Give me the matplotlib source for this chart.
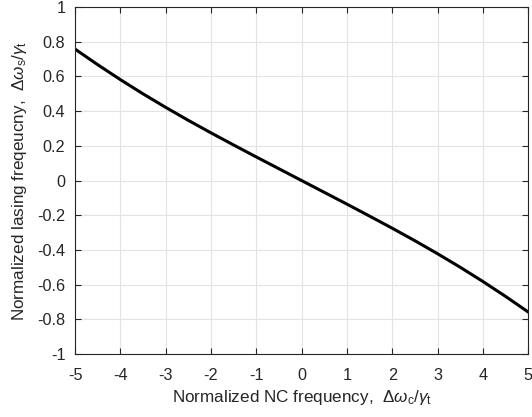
import matplotlib
matplotlib.use("Agg")
import matplotlib.pyplot as plt
import numpy as np

nc_freq = [-5, -4.5, -4, -3.5, -3, -2.5, -2, -1.5, -1, -0.5, 0, 0.5, 1, 1.5, 2, 2.5, 3, 3.5, 4, 4.5, 5]
lasing_freq = [0.758, 0.668, 0.582, 0.500, 0.422, 0.347, 0.275, 0.205, 0.136, 0.068, 0.0,
               -0.068, -0.136, -0.205, -0.275, -0.347, -0.422, -0.500, -0.582, -0.668, -0.758]
xticks = [-5, -4, -3, -2, -1, 0, 1, 2, 3, 4, 5]
yticks = [-1, -0.8, -0.6, -0.4, -0.2, 0, 0.2, 0.4, 0.6, 0.8, 1]
yticklabels = ["-1", "-0.8", "-0.6", "-0.4", "-0.2", "0", "0.2", "0.4", "0.6", "0.8", "1"]

plt.rcParams['font.family'] = ['Liberation Sans', 'DejaVu Sans']
plt.rcParams['mathtext.fontset'] = 'custom'
plt.rcParams['mathtext.rm'] = 'Liberation Sans'
plt.rcParams['mathtext.it'] = 'Liberation Sans:italic'

fig = plt.figure(figsize=(5.32, 4.17), dpi=100)
ax = fig.add_axes([0.141, 0.151, 0.852, 0.832])
ax.plot(nc_freq, lasing_freq, color='black', lw=2.2)
ax.set_xlim(-5, 5)
ax.set_ylim(-1, 1)
ax.set_xticks(xticks)
ax.set_xticklabels([str(t) for t in xticks])
ax.set_yticks(yticks)
ax.set_yticklabels(yticklabels)
ax.grid(True, color='#e3e3e3', lw=0.8)
ax.set_axisbelow(True)
for s in ax.spines.values():
    s.set_color('#262626')
    s.set_linewidth(0.8)
ax.tick_params(direction='in', top=True, right=True, length=4, width=0.8,
               colors='#262626', labelsize=11.7)
ax.tick_params(axis='x', pad=10)
ax.tick_params(axis='y', pad=7)
ax.set_xlabel(r'Normalized NC frequency,  $\Delta\omega_{\rm c}/\gamma_{\rm t}$',
              fontsize=12.3, color='#262626', labelpad=4)
ax.set_ylabel(r'Normalized lasing freqeucny,  $\Delta\omega_{\rm s}/\gamma_{\rm t}$',
              fontsize=12.3, color='#262626', labelpad=6)
fig.savefig('out.png', dpi=100)
